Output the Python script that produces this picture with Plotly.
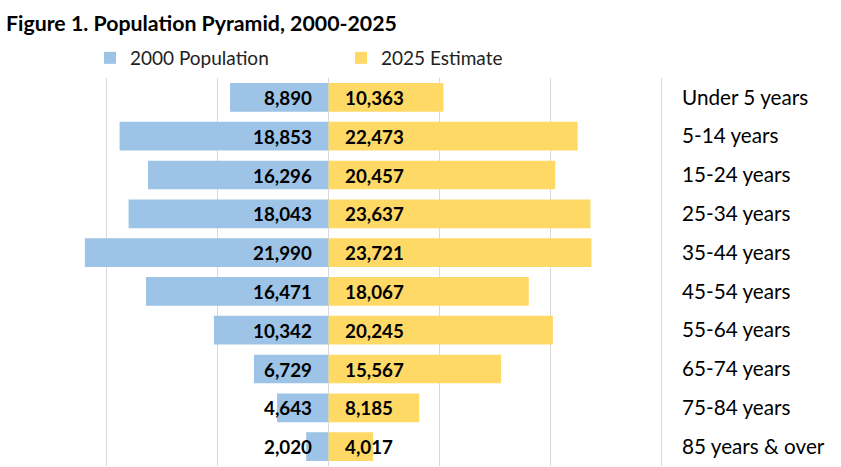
import plotly.graph_objects as go

categories = ["Under 5 years", "5-14 years", "15-24 years", "25-34 years", "35-44 years",
              "45-54 years", "55-64 years", "65-74 years", "75-84 years", "85 years & over"]
pop_2000 = [8890, 18853, 16296, 18043, 21990, 16471, 10342, 6729, 4643, 2020]
est_2025 = [10363, 22473, 20457, 23637, 23721, 18067, 20245, 15567, 8185, 4017]
grid_ticks = [-20000, -10000, 0, 10000, 20000, 30000]

FONT = "Lato"
BLUE = "#9DC3E6"
YELLOW = "#FFD966"

fig = go.Figure()
fig.add_trace(go.Bar(
    y=categories, x=[-v for v in pop_2000], orientation="h", name="2000 Population",
    marker=dict(color=BLUE, line=dict(width=0)), hoverinfo="skip"))
fig.add_trace(go.Bar(
    y=categories, x=est_2025, orientation="h", name="2025 Estimate",
    marker=dict(color=YELLOW, line=dict(width=0)), hoverinfo="skip"))

annotations = []
for c, v in zip(categories, pop_2000):
    annotations.append(dict(x=0, y=c, xref="x", yref="y", text=f"{v:,}", showarrow=False,
                            xanchor="right", xshift=-15,
                            font=dict(family=FONT, size=18.8, color="black", weight="bold")))
for c, v in zip(categories, est_2025):
    annotations.append(dict(x=0, y=c, xref="x", yref="y", text=f"{v:,}", showarrow=False,
                            xanchor="left", xshift=14,
                            font=dict(family=FONT, size=18.8, color="black", weight="bold")))

fig.update_layout(
    width=841, height=467,
    margin=dict(l=60, r=178, t=78, b=1),
    paper_bgcolor="white", plot_bgcolor="white",
    barmode="overlay", bargap=0.26,
    font=dict(family=FONT, size=19, color="black"),
    title=dict(text="<b>Figure 1. Population Pyramid, 2000-2025</b>",
               xref="container", x=6/841, xanchor="left",
               yref="container", y=1-23.5/467, yanchor="middle",
               font=dict(family=FONT, size=21.3, color="black")),
    legend=dict(orientation="h", xref="container", x=90/841, xanchor="left",
                yref="container", y=1-58/467, yanchor="middle",
                entrywidth=206, font=dict(family=FONT, size=19, color="#222"),
                bgcolor="rgba(0,0,0,0)", borderwidth=0, traceorder="normal"),
    xaxis=dict(range=[-24233, 30180], tickvals=grid_ticks, showticklabels=False,
               showgrid=True, gridcolor="#D9D9D9", gridwidth=1,
               zeroline=True, zerolinecolor="#D9D9D9", zerolinewidth=1,
               showline=False, ticks="", fixedrange=True),
    yaxis=dict(categoryorder="array", categoryarray=categories, autorange="reversed",
               side="right", showgrid=False, zeroline=False, showline=False, ticks="",
               ticklabelstandoff=18, tickfont=dict(family=FONT, size=20.7, color="black"),
               fixedrange=True),
    annotations=annotations,
)

fig.write_html("out.html", config={"displayModeBar": False},
               post_script="document.body.style.margin='0px';")
